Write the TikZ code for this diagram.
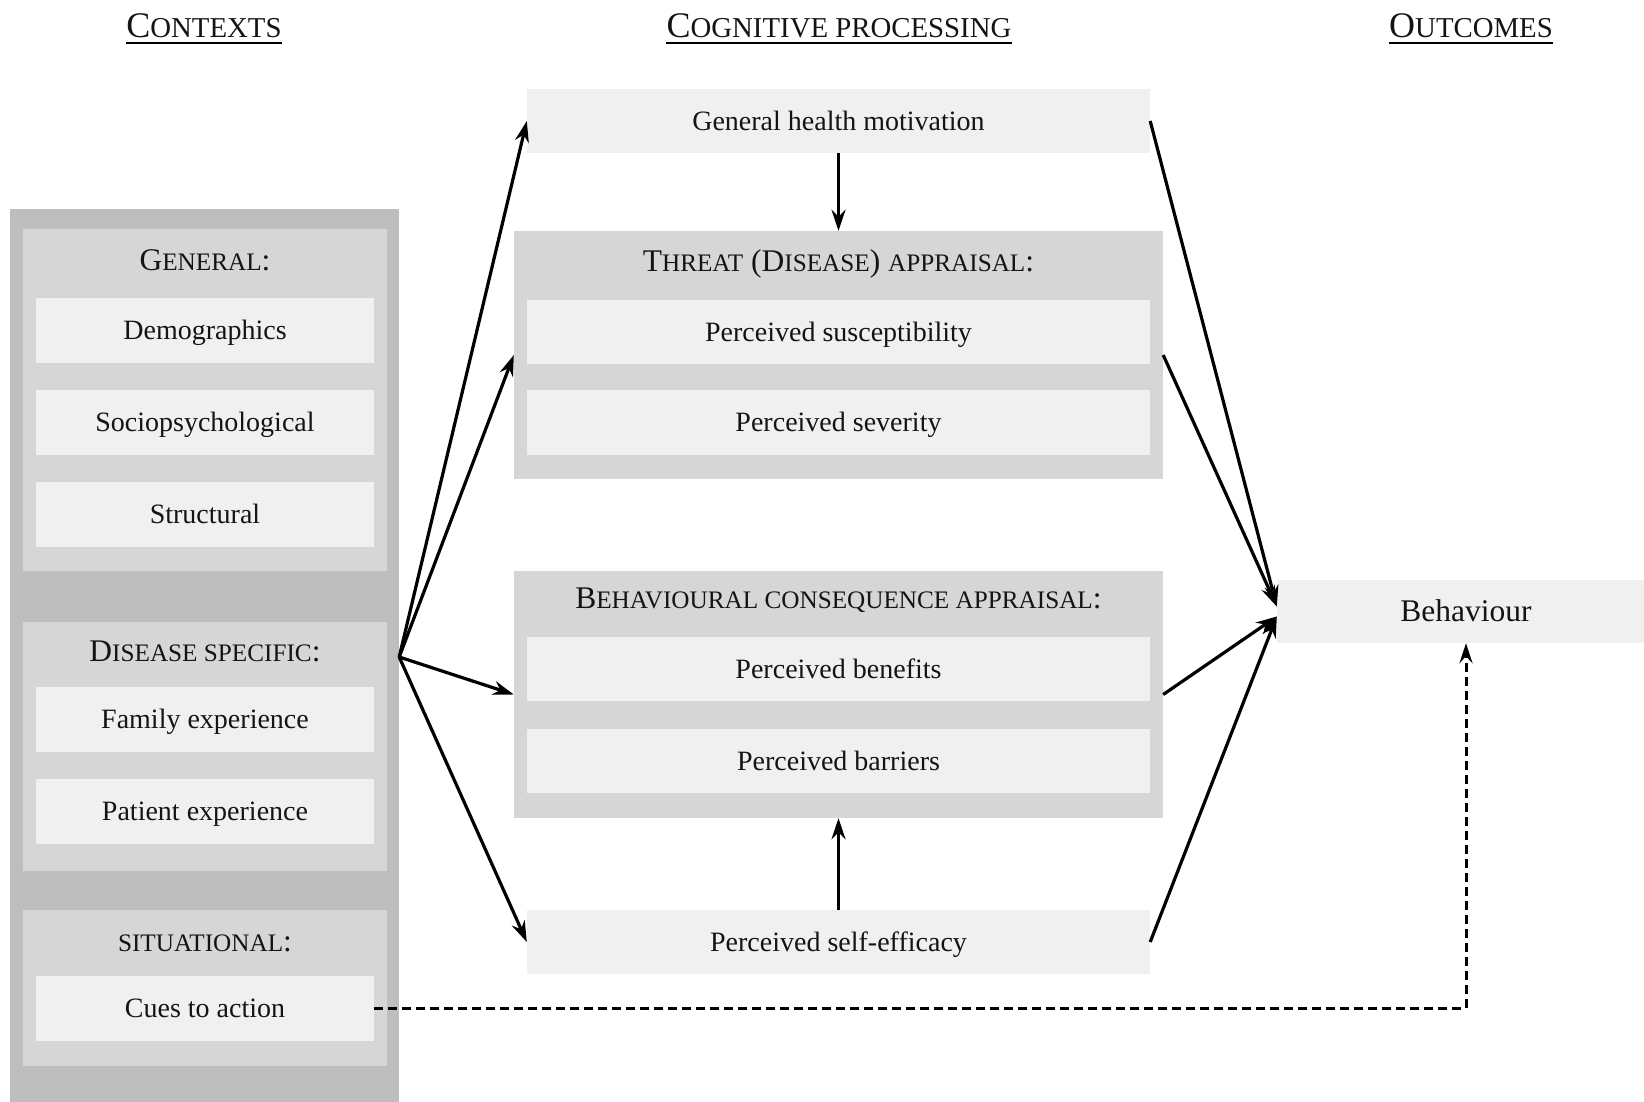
\documentclass[tikz,border=0pt]{standalone}
\usepackage{fontspec}
\setmainfont{Liberation Serif}
\usetikzlibrary{arrows.meta}

\definecolor{ctxgray}{HTML}{BEBEBE}
\definecolor{secgray}{HTML}{D6D6D6}
\definecolor{itemgray}{HTML}{F0F0F0}
\definecolor{ink}{HTML}{141414}

% reduced capitals for the small-caps look of headings and titles
\newcommand\hsc[1]{{\fontsize{28.8}{34}\selectfont #1}}
\newcommand\tsc[1]{{\fontsize{25.2}{30}\selectfont #1}}

\begin{document}
\begin{tikzpicture}[x=1pt,y=-1pt,
  panel/.style={fill=ctxgray, inner sep=0pt},
  section/.style={fill=secgray, inner sep=0pt},
  item/.style={fill=itemgray, inner sep=0pt, text=ink,
    font=\fontsize{28}{33}\selectfont, text height=18.5pt, text depth=0pt},
  sectitle/.style={inner sep=0pt, text=ink,
    font=\fontsize{31.5}{37}\selectfont, text height=20.8pt, text depth=0pt},
  header/.style={inner sep=0pt, anchor=base, text=ink,
    font=\fontsize{36}{42}\selectfont},
  link/.style={draw=black, line width=3.2pt,
    -{Stealth[length=21pt,width=14pt,inset=7pt]}},
  cue/.style={draw=black, line width=3pt, dash pattern=on 9pt off 5pt,
    -{Stealth[length=20pt,width=13pt,inset=7pt]}}]

\clip (0,0) rectangle (1644,1102);

% column headings
\node[header] (hctx) at (204,38) {C\hsc{ONTEXTS}};
\node[header] (hcog) at (839,38) {C\hsc{OGNITIVE PROCESSING}};
\node[header] (hout) at (1471,38) {O\hsc{UTCOMES}};
\foreach \h in {hctx,hcog,hout}
  \draw[black, line width=2pt] ([yshift=-5pt]\h.base west) -- ([yshift=-5pt]\h.base east);

% contexts panel
\node[panel, minimum width=389pt, minimum height=896pt] (ctx) at (204.5,657) {};

\node[section, minimum width=364pt, minimum height=342pt] (gen) at (205,400) {};
\node[sectitle] (tgen) at (205,260) {G\tsc{ENERAL}:};
\node[item, minimum width=338pt, minimum height=65pt] (demo) at (205,330.5) {Demographics};
\node[item, minimum width=338pt, minimum height=65pt] (socio) at (205,422.5) {Sociopsychological};
\node[item, minimum width=338pt, minimum height=65pt] (struct) at (205,514) {Structural};

\node[section, minimum width=364pt, minimum height=249pt] (dis) at (205,746.5) {};
\node[sectitle] (tdis) at (205,651) {D\tsc{ISEASE SPECIFIC}:};
\node[item, minimum width=338pt, minimum height=65pt] (fam) at (205,719.5) {Family experience};
\node[item, minimum width=338pt, minimum height=65pt] (pat) at (205,811.5) {Patient experience};

\node[section, minimum width=364pt, minimum height=156pt] (sit) at (205,988) {};
\node[sectitle] (tsit) at (205,941.5) {\tsc{SITUATIONAL}:};
\node[item, minimum width=338pt, minimum height=65pt] (cues) at (205,1008.5) {Cues to action};

% cognitive processing column
\node[item, minimum width=623pt, minimum height=64pt] (ghm) at (838.5,121) {General health motivation};

\node[section, minimum width=649pt, minimum height=248pt] (threat) at (838.5,355) {};
\node[sectitle] (tthreat) at (838.5,261.5) {T\tsc{HREAT} (D\tsc{ISEASE}) \tsc{APPRAISAL}:};
\node[item, minimum width=623pt, minimum height=64pt] (susc) at (838.5,332) {Perceived susceptibility};
\node[item, minimum width=623pt, minimum height=65pt] (sev) at (838.5,422.5) {Perceived severity};

\node[section, minimum width=649pt, minimum height=247pt] (behav) at (838.5,694.5) {};
\node[sectitle] (tbehav) at (838.5,598) {B\tsc{EHAVIOURAL CONSEQUENCE APPRAISAL}:};
\node[item, minimum width=623pt, minimum height=64pt] (ben) at (838.5,669) {Perceived benefits};
\node[item, minimum width=623pt, minimum height=64pt] (bar) at (838.5,761) {Perceived barriers};

\node[item, minimum width=623pt, minimum height=64pt] (eff) at (838.5,942) {Perceived self-efficacy};

% outcome
\node[item, minimum width=378pt, minimum height=63pt, font=\fontsize{31.5}{37}\selectfont,
  text height=20.8pt] (beh) at (1466,611.5) {Behaviour};

% influences
\draw[link] (ctx.east) -- (ghm.west);
\draw[link] (ctx.east) -- (threat.west);
\draw[link] (ctx.east) -- (behav.west);
\draw[link] (ctx.east) -- (eff.west);

\draw[link] (ghm.south) -- (threat.north);
\draw[link] (eff.north) -- (behav.south);

\draw[link] (ghm.east) -- ([yshift=5pt]beh.west);
\draw[link] (threat.east) -- ([yshift=5pt]beh.west);
\draw[link] (behav.east) -- ([yshift=-5pt]beh.west);
\draw[link] (eff.east) -- ([yshift=-5pt]beh.west);

\draw[cue] (cues.east) -| (beh.south);
\end{tikzpicture}
\end{document}
